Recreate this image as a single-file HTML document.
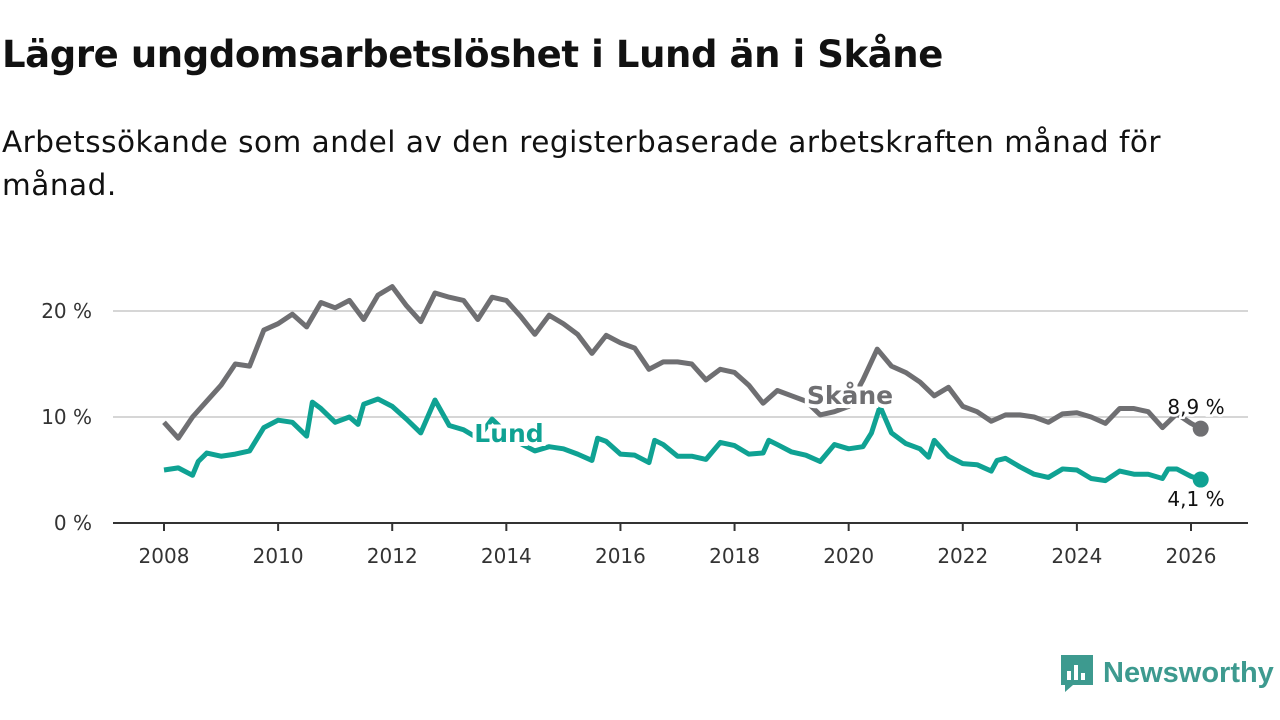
<!DOCTYPE html>
<html><head><meta charset="utf-8"><style>
body{margin:0;width:1280px;height:720px;background:#fff;font-family:"DejaVu Sans","Liberation Sans",sans-serif;overflow:hidden;position:relative}
h1{position:absolute;left:2px;top:33px;margin:0;font-size:37px;font-weight:bold;color:#111;letter-spacing:-0.4px}
p{position:absolute;left:2px;top:121px;margin:0;font-size:29.5px;line-height:43px;color:#111;width:1200px;letter-spacing:0.5px}
svg{position:absolute;left:0;top:0}
</style></head><body>
<h1>Lägre ungdomsarbetslöshet i Lund än i Skåne</h1>
<p>Arbetssökande som andel av den registerbaserade arbetskraften månad för månad.</p>
<svg id="c" width="1280" height="720"></svg>
<script>
const dates=[2008,2008.25,2008.5,2008.75,2009,2009.25,2009.5,2009.75,2010,2010.25,2010.5,2010.75,2011,2011.25,2011.5,2011.75,2012,2012.25,2012.5,2012.75,2013,2013.25,2013.5,2013.75,2014,2014.25,2014.5,2014.75,2015,2015.25,2015.5,2015.75,2016,2016.25,2016.5,2016.75,2017,2017.25,2017.5,2017.75,2018,2018.25,2018.5,2018.75,2019,2019.25,2019.5,2019.75,2020,2020.25,2020.5,2020.75,2021,2021.25,2021.5,2021.75,2022,2022.25,2022.5,2022.75,2023,2023.25,2023.5,2023.75,2024,2024.25,2024.5,2024.75,2025,2025.25,2025.5,2025.75,2026,2026.17];
const skane=[9.5,8.0,10.0,11.5,13.0,15.0,14.8,18.2,18.8,19.7,18.5,20.8,20.3,21.0,19.2,21.5,22.3,20.5,19.0,21.7,21.3,21.0,19.2,21.3,21.0,19.5,17.8,19.6,18.8,17.8,16.0,17.7,17.0,16.5,14.5,15.2,15.2,15.0,13.5,14.5,14.2,13.0,11.3,12.5,12.0,11.5,10.2,10.5,11.0,13.5,16.4,14.8,14.2,13.3,12.0,12.8,11.0,10.5,9.6,10.2,10.2,10.0,9.5,10.3,10.4,10.0,9.4,10.8,10.8,10.5,9.0,10.3,9.4,8.9];
const lundDates=[2008,2008.25,2008.5,2008.6,2008.75,2009,2009.25,2009.5,2009.75,2010,2010.25,2010.5,2010.6,2010.75,2011,2011.25,2011.4,2011.5,2011.75,2012,2012.25,2012.5,2012.75,2013,2013.25,2013.5,2013.75,2014,2014.25,2014.5,2014.75,2015,2015.25,2015.5,2015.6,2015.75,2016,2016.25,2016.5,2016.6,2016.75,2017,2017.25,2017.5,2017.75,2018,2018.25,2018.5,2018.6,2018.75,2019,2019.25,2019.5,2019.75,2020,2020.25,2020.4,2020.55,2020.75,2021,2021.25,2021.4,2021.5,2021.75,2022,2022.25,2022.5,2022.6,2022.75,2023,2023.25,2023.5,2023.75,2024,2024.25,2024.5,2024.75,2025,2025.25,2025.5,2025.6,2025.75,2026,2026.17];
const lund=[5.0,5.2,4.5,5.8,6.6,6.3,6.5,6.8,9.0,9.7,9.5,8.2,11.4,10.8,9.5,10.0,9.3,11.2,11.7,11.0,9.8,8.5,11.6,9.2,8.8,8.0,9.8,8.5,7.5,6.8,7.2,7.0,6.5,5.9,8.0,7.7,6.5,6.4,5.7,7.8,7.4,6.3,6.3,6.0,7.6,7.3,6.5,6.6,7.8,7.4,6.7,6.4,5.8,7.4,7.0,7.2,8.5,11.0,8.5,7.5,7.0,6.2,7.8,6.3,5.6,5.5,4.9,5.9,6.1,5.3,4.6,4.3,5.1,5.0,4.2,4.0,4.9,4.6,4.6,4.2,5.1,5.1,4.4,4.1];
const yTicks=[0,10,20];
const xTicks=[2008,2010,2012,2014,2016,2018,2020,2022,2024,2026];
const X=t=>164+(t-2008)*(1191-164)/18;
const Y=v=>523-v*10.6;
const s=document.getElementById('c');const NS='http://www.w3.org/2000/svg';
function mk(tag,a,txt){const e=document.createElementNS(NS,tag);for(const k in a)e.setAttribute(k,a[k]);if(txt!==undefined)e.textContent=txt;s.appendChild(e);return e;}
yTicks.forEach(v=>{
 if(v>0){const g=mk('line',{x1:113,x2:1248,y1:Y(v),y2:Y(v),stroke:'#d6d6d6','stroke-width':2});
 
 }
 const t=mk('text',{x:92,y:Y(v)+7,'text-anchor':'end','font-size':20,fill:'#333'},v+' %');
 
 
});
const ax=mk('line',{x1:113,x2:1248,y1:523,y2:523,stroke:'#333','stroke-width':2});


xTicks.forEach(v=>{
 mk('line',{x1:X(v),x2:X(v),y1:523,y2:531,stroke:'#333','stroke-width':2});
 const t=mk('text',{x:X(v),y:563,'text-anchor':'middle','font-size':20,fill:'#333'},v);
 
 
});
function line(ds,vs,col,name){
 const p=mk('polyline',{points:ds.map((d,i)=>X(d)+','+Y(vs[i])).join(' '),fill:'none',stroke:col,'stroke-width':5,'stroke-linejoin':'round'});
 
 
 const c=mk('circle',{cx:X(ds[ds.length-1]),cy:Y(vs[vs.length-1]),r:8,fill:col});
 
 
}
line(dates,skane,'#6f6f72','skane-line');
line(lundDates,lund,'#0fa293','lund-line');
function lab(x,y,txt,col,name,size,bold){
 const t=mk('text',{x:x,y:y,'font-size':size,'font-weight':bold?'bold':'normal',fill:col,stroke:'#fff','stroke-width':bold?8:5,'paint-order':'stroke','text-anchor':'middle'},txt);
 
 
}
lab(850,404,'Skåne','#6f6f72','skane-label',25,true);
lab(509,442,'Lund','#0fa293','lund-label',25,true);
lab(1196,414,'8,9 %','#111','skane-end-value',20,false);
lab(1196,506,'4,1 %','#111','lund-end-value',20,false);
</script>
<div style="position:absolute;left:1059px;top:653px;height:40px;display:flex;align-items:center">
<svg width="36" height="40" style="position:static" viewBox="0 0 36 40"><path d="M2 2h32v30H14l-8 7v-7H2z" fill="#3d9a8f"/><rect x="8" y="18" width="4" height="9" fill="#fff"/><rect x="15" y="12" width="4" height="15" fill="#fff"/><rect x="22" y="20" width="4" height="7" fill="#fff"/></svg>
<span style="font-family:'Liberation Sans',sans-serif;font-size:29px;color:#3d9a8f;margin-left:8px;font-weight:bold">Newsworthy</span></div>
</body></html>
